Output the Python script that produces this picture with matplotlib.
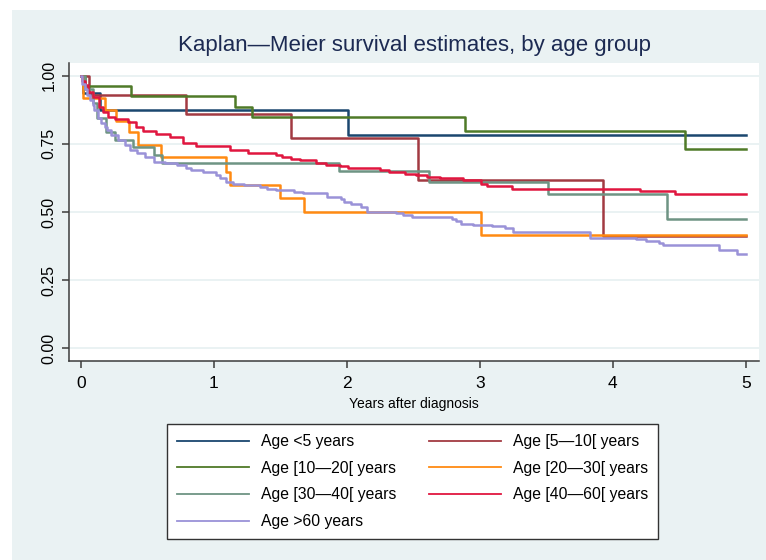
import matplotlib
matplotlib.use("Agg")
import matplotlib.pyplot as plt
from matplotlib.patches import Rectangle

plt.rcParams['font.family'] = ['Liberation Sans', 'DejaVu Sans']

# Kaplan-Meier step estimates (time in years, survival)
labels = ['Age <5 years', 'Age [5\u201410[ years', 'Age [10\u201420[ years',
          'Age [20\u201430[ years', 'Age [30\u201440[ years', 'Age [40\u201460[ years',
          'Age >60 years']
colors = ['#1a476f', '#a23a42', '#4f7a28', '#ff8a12', '#6e9484', '#e0163f', '#9a92d8']

t_lt5 = [0, 0.02, 0.145, 2.01, 5]
s_lt5 = [1, 0.9375, 0.875, 0.783, 0.783]

t_5_10 = [0, 0.06, 0.79, 1.58, 2.535, 3.925, 5]
s_5_10 = [1, 0.93, 0.859, 0.772, 0.617, 0.412, 0.412]

t_10_20 = [0, 0.03, 0.376, 1.16, 1.29, 2.89, 4.545, 5]
s_10_20 = [1, 0.963, 0.926, 0.887, 0.848, 0.798, 0.731, 0.731]

t_20_30 = [0, 0.02, 0.18, 0.265, 0.36, 0.43, 0.60, 1.09, 1.12, 1.50, 1.68, 3.01, 5]
s_20_30 = [1, 0.917, 0.875, 0.833, 0.792, 0.745, 0.70, 0.647, 0.60, 0.55, 0.50, 0.417, 0.417]

t_30_40 = [0, 0.03, 0.09, 0.12, 0.19, 0.26, 0.39, 0.55, 0.61, 1.94, 2.617, 3.51, 4.41, 5]
s_30_40 = [1, 0.95, 0.90, 0.845, 0.795, 0.764, 0.737, 0.709, 0.681, 0.65, 0.611, 0.565, 0.473, 0.473]

t_40_60 = [0, 0.01, 0.03, 0.055, 0.093, 0.138, 0.168, 0.205, 0.256, 0.356, 0.419, 0.469,
           0.569, 0.669, 0.769, 0.87, 1.12, 1.26, 1.47, 1.51, 1.58, 1.65, 1.77, 1.84, 1.95,
           2.01, 2.25, 2.32, 2.44, 2.52, 2.60, 2.70, 2.87, 3.01, 3.05, 3.24, 4.20, 4.47, 5]
s_40_60 = [1, 0.98, 0.966, 0.941, 0.923, 0.886, 0.868, 0.849, 0.84, 0.831, 0.813, 0.798,
           0.786, 0.776, 0.752, 0.741, 0.726, 0.716, 0.708, 0.70, 0.696, 0.69, 0.68, 0.673, 0.667,
           0.66, 0.653, 0.647, 0.641, 0.635, 0.629, 0.623, 0.617, 0.604, 0.594, 0.586, 0.576, 0.565, 0.565]

t_gt60 = [0, 0.01, 0.03, 0.05, 0.07, 0.09, 0.10, 0.13, 0.15, 0.18, 0.20, 0.23, 0.28, 0.33,
          0.37, 0.42, 0.48, 0.55, 0.63, 0.72, 0.795, 0.83, 0.92, 1.02, 1.045, 1.095, 1.145,
          1.23, 1.35, 1.40, 1.47, 1.60, 1.67, 1.85, 1.96, 1.98, 2.03, 2.11, 2.15, 2.37, 2.42,
          2.49, 2.79, 2.82, 2.86, 2.95, 3.09, 3.19, 3.25, 3.83, 4.17, 4.25, 4.35, 4.38, 4.80,
          4.93, 5]
s_gt60 = [1, 0.97, 0.95, 0.93, 0.91, 0.892, 0.874, 0.844, 0.825, 0.813, 0.80, 0.782, 0.764,
          0.746, 0.727, 0.715, 0.703, 0.685, 0.679, 0.672, 0.663, 0.653, 0.647, 0.635, 0.623,
          0.61, 0.604, 0.598, 0.592, 0.586, 0.58, 0.574, 0.568, 0.555, 0.549, 0.538, 0.528,
          0.518, 0.50, 0.496, 0.488, 0.482, 0.476, 0.467, 0.457, 0.454, 0.449, 0.441, 0.427,
          0.406, 0.40, 0.392, 0.386, 0.378, 0.362, 0.347, 0.347]

times = [t_lt5, t_5_10, t_10_20, t_20_30, t_30_40, t_40_60, t_gt60]
survs = [s_lt5, s_5_10, s_10_20, s_20_30, s_30_40, s_40_60, s_gt60]

yticks = [0, 0.25, 0.5, 0.75, 1.0]
ytick_labels = ['0.00', '0.25', '0.50', '0.75', '1.00']
xticks = [0, 1, 2, 3, 4, 5]

bg = '#eaf2f3'
W, H = 766, 560

fig = plt.figure(figsize=(W / 100, H / 100), dpi=100)
fig.patch.set_facecolor('white')
fig.patches.append(Rectangle((12 / W, 0), 1 - 12 / W, 1 - 10 / H,
                             transform=fig.transFigure, facecolor=bg,
                             edgecolor='none', zorder=-10))

ax = fig.add_axes([69 / W, 1 - 360.7 / H, 690 / W, 297.7 / H])
ax.set_facecolor('white')

lines = []
for t, s, c, lab in zip(times, survs, colors, labels):
    ln, = ax.plot(t, s, drawstyle='steps-post', color=c, lw=1.8, label=lab)
    lines.append(ln)

ax.set_xlim(-0.088, 5.098)
ax.set_ylim(-0.0455, 1.0466)
ax.set_yticks(yticks)
ax.set_yticklabels(ytick_labels, rotation=90, va='center')
ax.set_xticks(xticks)
ax.grid(axis='y', color=bg, lw=1.4)
ax.set_axisbelow(True)

for side in ['top', 'right']:
    ax.spines[side].set_visible(False)
for side in ['left', 'bottom']:
    ax.spines[side].set_color('#3c3c3c')
    ax.spines[side].set_linewidth(1.1)
ax.tick_params(direction='out', length=5, width=1.1, color='#3c3c3c',
               labelsize=11.5, labelcolor='black', pad=4)
ax.tick_params(axis='x', labelsize=12.5, pad=6)

ax.set_xlabel('Years after diagnosis', fontsize=10, labelpad=4)
fig.text(414 / W, 1 - 45 / H, 'Kaplan\u2014Meier survival estimates, by age group',
         ha='center', va='center', fontsize=16, color='#1c2a52')

# legend filled row-wise like the reference
order = [0, 2, 4, 6, 1, 3, 5]
leg = fig.legend([lines[i] for i in order], [labels[i] for i in order],
                 ncol=2, loc='upper left', bbox_to_anchor=(167 / W, 1 - 424 / H),
                 bbox_transform=fig.transFigure, fontsize=11.3, frameon=True,
                 fancybox=False, edgecolor='#333333', framealpha=1,
                 handlelength=4.6, handletextpad=0.75, columnspacing=2.05,
                 labelspacing=0.74, borderpad=0.65, borderaxespad=0)
leg.get_frame().set_linewidth(1.0)
for h in leg.get_lines():
    h.set_linewidth(1.3)

fig.savefig('out.png', dpi=100, facecolor=fig.get_facecolor())
